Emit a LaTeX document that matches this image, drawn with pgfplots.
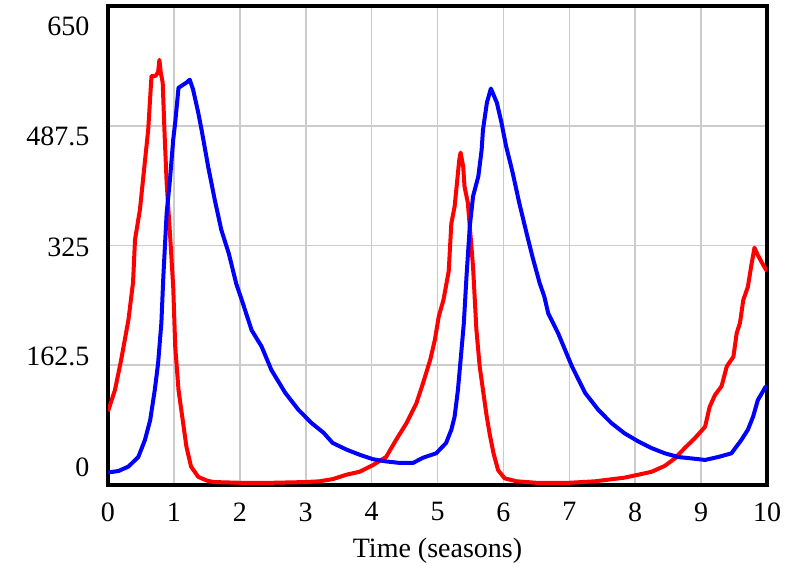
\documentclass[border=0pt]{standalone}
\usepackage{fontspec}
\setmainfont{Liberation Serif}
\usepackage{pgfplots}
\pgfplotsset{compat=1.18}
\begin{document}
\begin{tikzpicture}
\path[use as bounding box] (0,0) rectangle (788pt,569pt);
\begin{axis}[
 at={(108pt,84pt)}, anchor=south west,
 width=659pt, height=479pt, scale only axis,
 xmin=0, xmax=10, ymin=0, ymax=650,
 xtick={0,1,2,3,4,5,6,7,8,9,10},
 xticklabels={0,1,2,3,4,5,6,7,8,9,10},
 ytick={0,162.5,325,487.5,650},
 yticklabels={,,,,},
 extra y ticks={24.5,174,323,473,622},
 extra y tick labels={0,162.5,325,487.5,650},
 extra y tick style={grid=none, major tick length=0pt},
 yticklabel style={xshift=-15pt},
 grid=major,
 major grid style={line width=1.6pt, color=gray!40},
 major tick length=0pt,
 axis line style={line width=3.5pt, black},
 tick label style={font=\fontsize{28}{30}\selectfont},
 xticklabel style={yshift=-14pt},
 xlabel={Time (seasons)},
 xlabel style={at={(axis description cs:0.5,0)}, anchor=north, yshift=-50pt},
 label style={font=\fontsize{28}{30}\selectfont},
 every axis plot/.append style={line width=4pt, line join=round, no markers},
]
\addplot[red] coordinates {
(0,100) (0.106,129) (0.2,170) (0.31,224) (0.38,275) (0.41,333) (0.485,374) (0.56,439) (0.61,482) (0.66,555) (0.72,555) (0.76,560) (0.78,577) (0.80,560) (0.83,546) (0.86,473) (0.89,410) (0.94,342) (0.99,268) (1.02,188) (1.07,129) (1.14,84) (1.19,52) (1.26,25) (1.37,11) (1.5,6) (1.6,4) (2.0,3) (2.5,3) (3.0,4) (3.21,5) (3.41,8) (3.62,14) (3.82,18) (4.02,27) (4.22,38) (4.37,61) (4.53,84) (4.68,111) (4.78,138) (4.89,170) (4.96,197) (5.02,229) (5.09,251) (5.17,290) (5.21,355) (5.26,378) (5.29,405) (5.33,441) (5.35,451) (5.39,432) (5.41,405) (5.46,383) (5.51,329) (5.54,295) (5.59,211) (5.64,161) (5.69,129) (5.74,97) (5.79,70) (5.85,43) (5.92,20) (6.02,9) (6.2,5) (6.5,3) (7.0,3) (7.39,5) (7.84,10) (8.05,14) (8.25,18) (8.45,26) (8.60,36) (8.75,50) (8.90,63) (9.06,79) (9.13,106) (9.21,122) (9.31,134) (9.39,161) (9.49,174) (9.54,206) (9.59,220) (9.64,251) (9.71,269) (9.76,297) (9.81,322) (9.86,312) (9.94,299) (10,290)
};
\addplot[blue] coordinates {
(0,17) (0.16,19) (0.31,25) (0.46,38) (0.56,61) (0.64,88) (0.71,129) (0.76,165) (0.81,220) (0.84,283) (0.89,369) (0.94,414) (0.99,469) (1.02,492) (1.07,539) (1.19,546) (1.24,550) (1.29,537) (1.37,505) (1.42,482) (1.52,432) (1.62,387) (1.72,346) (1.83,315) (1.95,272) (2.03,251) (2.18,210) (2.33,188) (2.48,156) (2.69,125) (2.89,102) (3.09,84) (3.27,71) (3.41,57) (3.62,48) (3.82,41) (4.02,35) (4.22,32) (4.42,30) (4.63,30) (4.78,37) (4.98,43) (5.13,57) (5.21,75) (5.26,93) (5.31,129) (5.36,179) (5.40,220) (5.44,283) (5.49,351) (5.54,392) (5.62,419) (5.67,455) (5.69,482) (5.75,519) (5.81,538) (5.90,519) (5.97,492) (6.04,460) (6.14,424) (6.24,383) (6.34,346) (6.44,310) (6.55,274) (6.62,256) (6.68,233) (6.83,206) (7.04,161) (7.24,125) (7.44,102) (7.64,84) (7.84,70) (8.05,59) (8.25,50) (8.45,43) (8.65,38) (8.86,36) (9.06,34) (9.26,38) (9.46,43) (9.61,61) (9.71,75) (9.79,93) (9.86,115) (9.97,132) (10,135)
};
\end{axis}
\end{tikzpicture}
\end{document}
